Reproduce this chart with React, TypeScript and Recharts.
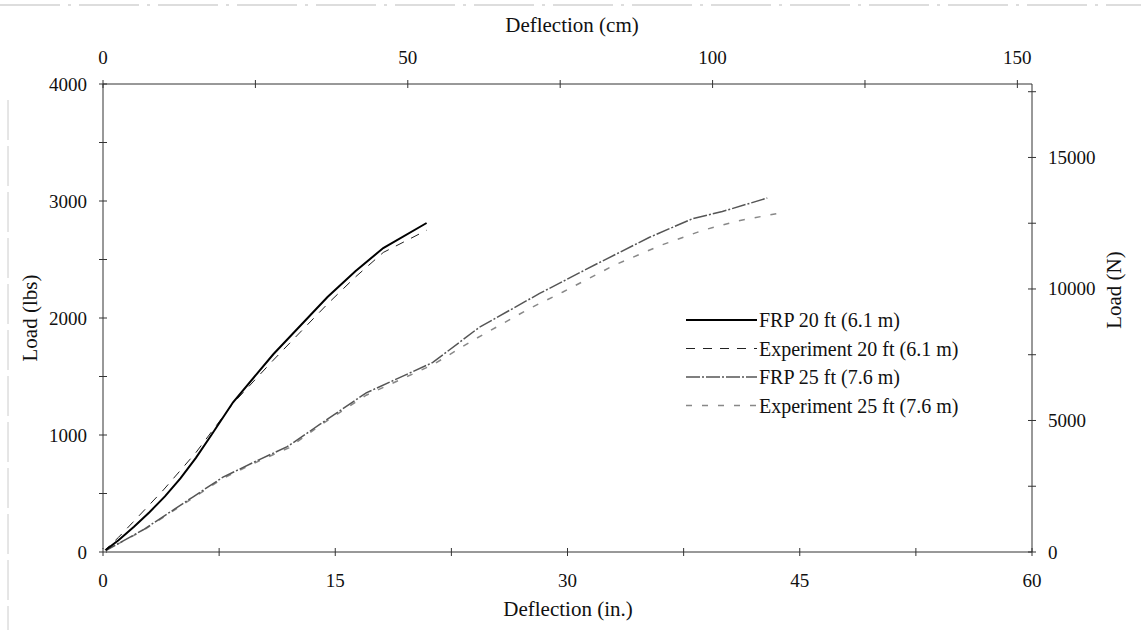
import { LineChart, Line, XAxis, YAxis, Customized } from "recharts";

// deflection (in.) / load (lbs)
const frp20 = [
    { x: 0, y: 0 }, { x: 1, y: 100 }, { x: 2, y: 215 }, { x: 3, y: 340 },
    { x: 4, y: 475 }, { x: 5, y: 630 }, { x: 6, y: 805 }, { x: 7, y: 1000 },
    { x: 8.4, y: 1280 }, { x: 11, y: 1690 }, { x: 14.5, y: 2180 },
    { x: 16.3, y: 2400 }, { x: 18.1, y: 2598 }, { x: 20.9, y: 2812 },
];
const exp20 = [
    { x: 0, y: 0 }, { x: 1, y: 125 }, { x: 1.9, y: 250 }, { x: 3.9, y: 530 },
    { x: 6, y: 850 }, { x: 8.4, y: 1270 }, { x: 11, y: 1640 }, { x: 14.5, y: 2120 },
    { x: 16.3, y: 2350 }, { x: 18.1, y: 2560 }, { x: 20.9, y: 2750 },
];
const frp25 = [
    { x: 0, y: 0 }, { x: 2.6, y: 190 }, { x: 5.8, y: 470 }, { x: 7.75, y: 640 },
    { x: 10.1, y: 790 }, { x: 11.9, y: 900 }, { x: 14, y: 1090 }, { x: 17, y: 1360 },
    { x: 21.3, y: 1620 }, { x: 24.3, y: 1920 }, { x: 28.2, y: 2210 }, { x: 32, y: 2470 },
    { x: 35.3, y: 2690 }, { x: 38.1, y: 2850 }, { x: 40, y: 2910 }, { x: 42.9, y: 3025 },
];
const exp25 = [
    { x: 0, y: 0 }, { x: 2.6, y: 185 }, { x: 5.8, y: 460 }, { x: 7.75, y: 630 },
    { x: 10.1, y: 780 }, { x: 12, y: 890 }, { x: 14, y: 1080 }, { x: 17, y: 1340 },
    { x: 21.3, y: 1600 }, { x: 23.9, y: 1810 }, { x: 27.6, y: 2085 }, { x: 29.7, y: 2222 },
    { x: 33, y: 2450 }, { x: 36, y: 2620 }, { x: 38.8, y: 2752 }, { x: 41, y: 2830 },
    { x: 43.7, y: 2897 },
];
const anchor = [{ x: 0, y: 0 }];

const inchTicks = [0, 7.5, 15, 22.5, 30, 37.5, 45, 52.5, 60];
const cmTicks = [0, 25, 50, 75, 100, 125, 150];
const lbsTicks = [0, 500, 1000, 1500, 2000, 2500, 3000, 3500, 4000];
const newtonTicks = [0, 2500, 5000, 7500, 10000, 12500, 15000, 17500];

const legendItems = [
    { name: "FRP 20 ft (6.1 m)", color: "#000", width: 2, dash: undefined },
    { name: "Experiment 20 ft (6.1 m)", color: "#222", width: 1, dash: "9 8" },
    { name: "FRP 25 ft (7.6 m)", color: "#555", width: 1.5, dash: "14 2 2 2" },
    { name: "Experiment 25 ft (7.6 m)", color: "#888", width: 1.5, dash: "6 10" },
];

const FONT = "'Liberation Serif', 'Times New Roman', serif";
const AXIS = "#333";

const LeftTick = ({ x, y, payload }: any) => (
    <g>
        <line x1={x - 4} x2={x + 4} y1={y} y2={y} stroke={AXIS} />
        {payload.value % 1000 === 0 && (
            <text x={x - 16} y={y} textAnchor="end" dominantBaseline="central" fontSize={19} fontFamily={FONT} fill="#111">
                {payload.value}
            </text>
        )}
    </g>
);

const RightTick = ({ x, y, payload }: any) => (
    <g>
        <line x1={x - 4} x2={x + 4} y1={y} y2={y} stroke={AXIS} />
        {payload.value % 5000 === 0 && (
            <text x={x + 16} y={y} textAnchor="start" dominantBaseline="central" fontSize={19} fontFamily={FONT} fill="#111">
                {payload.value}
            </text>
        )}
    </g>
);

const BottomTick = ({ x, y, payload }: any) => (
    <g>
        <line x1={x} x2={x} y1={y - 4} y2={y + 4} stroke={AXIS} />
        {payload.value % 15 === 0 && (
            <text x={x} y={y + 28} textAnchor="middle" dominantBaseline="central" fontSize={19} fontFamily={FONT} fill="#111">
                {payload.value}
            </text>
        )}
    </g>
);

const TopTick = ({ x, y, payload }: any) => (
    <g>
        <line x1={x} x2={x} y1={y - 4} y2={y + 4} stroke={AXIS} />
        {payload.value % 50 === 0 && (
            <text x={x} y={y - 27} textAnchor="middle" dominantBaseline="central" fontSize={19} fontFamily={FONT} fill="#111">
                {payload.value}
            </text>
        )}
    </g>
);

const Titles = () => (
    <g fontFamily={FONT} fontSize={21} fill="#111">
        <text x={572} y={25} textAnchor="middle" dominantBaseline="central">Deflection (cm)</text>
        <text x={568} y={609} textAnchor="middle" dominantBaseline="central">Deflection (in.)</text>
        <text x={30} y={318} textAnchor="middle" dominantBaseline="central" transform="rotate(-90 30 318)">Load (lbs)</text>
        <text x={1114} y={290} textAnchor="middle" dominantBaseline="central" transform="rotate(-90 1114 290)">Load (N)</text>
        {/* faint scan edges */}
        <line x1={0} x2={1141} y1={5} y2={5} stroke="#bbb" strokeDasharray="60 8 3 8" />
        <line x1={8} x2={8} y1={100} y2={630} stroke="#ccc" strokeDasharray="40 6" />
        <g fontSize={20}>
            {legendItems.map((it, i) => {
                const cy = 320 + i * 28.5;
                return (
                    <g key={it.name}>
                        <line x1={686} x2={757} y1={cy} y2={cy} stroke={it.color} strokeWidth={it.width} strokeDasharray={it.dash} />
                        <text x={759} y={cy} dominantBaseline="central">{it.name}</text>
                    </g>
                );
            })}
        </g>
    </g>
);

export default function App() {
    return (
        <div style={{ position: "absolute", left: 0, top: 0, background: "#fff" }}>
            <LineChart width={1141} height={630} margin={{ top: 0, right: 0, left: 0, bottom: 0 }}>
                <XAxis
                    xAxisId="in"
                    type="number"
                    dataKey="x"
                    domain={[0, 60]}
                    ticks={inchTicks}
                    interval={0}
                    height={78}
                    orientation="bottom"
                    stroke={AXIS}
                    tickLine={false}
                    tickSize={0}
                    tickMargin={0}
                    tick={<BottomTick />}
                />
                <XAxis
                    xAxisId="cm"
                    type="number"
                    dataKey="x"
                    domain={[0, 152.4]}
                    ticks={cmTicks}
                    interval={0}
                    height={84}
                    orientation="top"
                    stroke={AXIS}
                    tickLine={false}
                    tickSize={0}
                    tickMargin={0}
                    tick={<TopTick />}
                />
                <YAxis
                    yAxisId="lbs"
                    type="number"
                    domain={[0, 4000]}
                    ticks={lbsTicks}
                    interval={0}
                    width={103}
                    orientation="left"
                    stroke={AXIS}
                    tickLine={false}
                    tickSize={0}
                    tickMargin={0}
                    tick={<LeftTick />}
                />
                <YAxis
                    yAxisId="N"
                    type="number"
                    domain={[0, 17793]}
                    ticks={newtonTicks}
                    interval={0}
                    width={109}
                    orientation="right"
                    stroke={AXIS}
                    tickLine={false}
                    tickSize={0}
                    tickMargin={0}
                    tick={<RightTick />}
                />
                <Line xAxisId="cm" yAxisId="N" data={anchor} dataKey="y" stroke="none" dot={false} isAnimationActive={false} />
                <Line xAxisId="in" yAxisId="lbs" data={exp25} dataKey="y" type="linear" stroke="#888" strokeWidth={1.5} strokeDasharray="6 10" dot={false} isAnimationActive={false} />
                <Line xAxisId="in" yAxisId="lbs" data={frp25} dataKey="y" type="linear" stroke="#555" strokeWidth={1.5} strokeDasharray="14 2 2 2" dot={false} isAnimationActive={false} />
                <Line xAxisId="in" yAxisId="lbs" data={exp20} dataKey="y" type="linear" stroke="#222" strokeWidth={1} strokeDasharray="9 8" dot={false} isAnimationActive={false} />
                <Line xAxisId="in" yAxisId="lbs" data={frp20} dataKey="y" type="linear" stroke="#000" strokeWidth={2} dot={false} isAnimationActive={false} />
                <Customized component={Titles} />
            </LineChart>
        </div>
    );
}
